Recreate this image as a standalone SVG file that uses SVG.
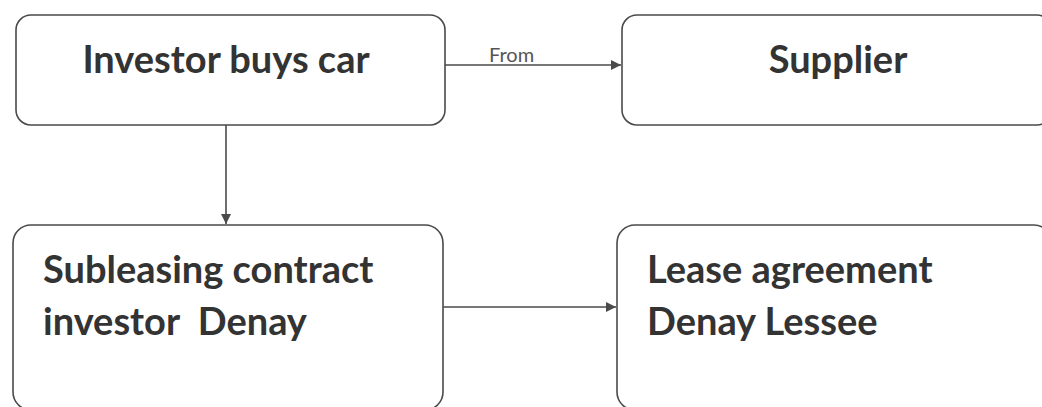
<svg xmlns="http://www.w3.org/2000/svg" width="1042" height="407" viewBox="0 0 1042 407">
<style>
.box{fill:#fff;stroke:#4a4a4a;stroke-width:1.6}
.t{font-family:Lato,"Liberation Sans",Arial,sans-serif;font-size:38px;font-weight:700;fill:#333}
.lbl{font-family:Lato,"Liberation Sans",Arial,sans-serif;font-size:20px;fill:#555}
.c{stroke:#4a4a4a;stroke-width:1.6;fill:none}
</style>
<defs>
<marker id="ah" viewBox="0 0 10 10" refX="10" refY="5" markerWidth="11" markerHeight="10" markerUnits="userSpaceOnUse" orient="auto">
<path d="M0,0 L10,5 L0,10 z" fill="#4a4a4a"/>
</marker>
</defs>
<rect width="1042" height="407" fill="#fff"/>
<g id="n1"><rect class="box" x="16" y="15" width="429" height="110" rx="15"/><text class="t" x="226" y="73" text-anchor="middle">Investor buys car</text></g>
<g id="n2"><rect class="box" x="622" y="15" width="430" height="110" rx="15"/><text class="t" x="838" y="73" text-anchor="middle">Supplier</text></g>
<g id="n3"><rect class="box" x="13" y="225" width="430" height="185" rx="18"/><text class="t" x="43" y="283">Subleasing contract</text><text class="t" x="43" y="335" xml:space="preserve">investor  Denay</text></g>
<g id="n4"><rect class="box" x="617" y="225" width="435" height="185" rx="18"/><text class="t" x="647" y="283">Lease agreement</text><text class="t" x="647" y="335">Denay Lessee</text></g>
<g id="connectors">
<line class="c" x1="445" y1="65" x2="621" y2="65" marker-end="url(#ah)"/>
<text class="lbl" x="489" y="62">From</text>
<line class="c" x1="226" y1="125" x2="226" y2="224" marker-end="url(#ah)"/>
<line class="c" x1="443" y1="307" x2="616" y2="307" marker-end="url(#ah)"/>
</g>
</svg>
